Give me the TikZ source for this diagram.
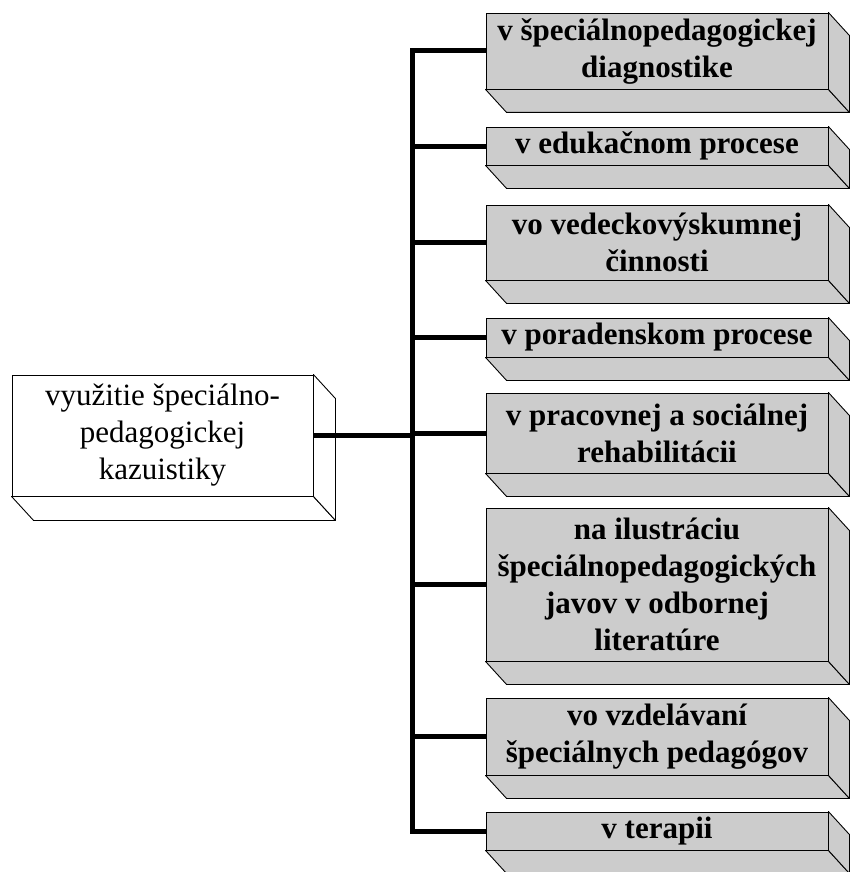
\documentclass[tikz,border=0pt]{standalone}
\usepackage{fontspec}
\setmainfont{Liberation Serif}
\definecolor{boxgray}{rgb}{0.80,0.80,0.80}
\tikzset{
  x=1pt, y=-1pt,
  front/.style={draw=black, line width=0.9pt, inner sep=0pt, align=center},
  sidebox/.style={front, fill=boxgray, minimum width=342pt,
    font=\fontsize{31}{37}\selectfont\bfseries},
  mainbox/.style={front, fill=white, minimum width=301pt, minimum height=121pt,
    font=\fontsize{31}{37}\selectfont},
  face/.style={draw=black, line width=0.9pt, line join=round},
  conn/.style={draw=black, line width=5pt}
}
% extruded bottom and right faces behind a front face
\newcommand{\depthfaces}[4]{% node, fill, dx, dy
  \path[face, fill=#2] (#1.south west) -- ++(#3,#4) -- ([shift={(#3,#4)}]#1.south east)
      -- (#1.south east) -- cycle;
  \path[face, fill=#2] (#1.north east) -- ++(#3,#4) -- ([shift={(#3,#4)}]#1.south east)
      -- (#1.south east) -- cycle;
}
\begin{document}
\begin{tikzpicture}
\useasboundingbox (0,0) rectangle (850,872);

% main node
\node[mainbox] (root) at (162.5,435.5) {využitie špeciálno-\\pedagogickej\\kazuistiky};

% branch nodes
\node[sidebox, minimum height=76pt]  (b1) at (657,51)    {v špeciálnopedagogickej\\diagnostike};
\node[sidebox, minimum height=38pt]  (b2) at (657,146)   {v edukačnom procese};
\node[sidebox, minimum height=75pt]  (b3) at (657,242.5) {vo vedeckovýskumnej\\činnosti};
\node[sidebox, minimum height=39pt]  (b4) at (657,337.5) {v poradenskom procese};
\node[sidebox, minimum height=80pt]  (b5) at (657,433)   {v pracovnej a sociálnej\\rehabilitácii};
\node[sidebox, minimum height=153pt] (b6) at (657,584.5) {na ilustráciu\\špeciálnopedagogických\\javov v odbornej\\literatúre};
\node[sidebox, minimum height=77pt]  (b7) at (657,736.5) {vo vzdelávaní\\špeciálnych pedagógov};
\node[sidebox, minimum height=38pt]  (b8) at (657,831)   {v terapii};

% depth faces
\depthfaces{root}{white}{22}{24}
\foreach \n in {b1,b2,b3,b4,b5,b6,b7,b8}{\depthfaces{\n}{boxgray}{21}{23}}

% redraw front faces over the depth faces
\node[mainbox] at (root) {využitie špeciálno-\\pedagogickej\\kazuistiky};
\node[sidebox, minimum height=76pt]  at (b1) {v špeciálnopedagogickej\\diagnostike};
\node[sidebox, minimum height=38pt]  at (b2) {v edukačnom procese};
\node[sidebox, minimum height=75pt]  at (b3) {vo vedeckovýskumnej\\činnosti};
\node[sidebox, minimum height=39pt]  at (b4) {v poradenskom procese};
\node[sidebox, minimum height=80pt]  at (b5) {v pracovnej a sociálnej\\rehabilitácii};
\node[sidebox, minimum height=153pt] at (b6) {na ilustráciu\\špeciálnopedagogických\\javov v odbornej\\literatúre};
\node[sidebox, minimum height=77pt]  at (b7) {vo vzdelávaní\\špeciálnych pedagógov};
\node[sidebox, minimum height=38pt]  at (b8) {v terapii};

% connectors
\coordinate (trunk) at (412,435);
\draw[conn] (root.east) -- (root.east -| trunk);
\draw[conn, line cap=rect] (b1.west -| trunk) -- (b8.west -| trunk);
\foreach \n in {b1,b2,b3,b4,b5,b6,b7,b8}{
  \draw[conn] (\n.west -| trunk) -- (\n.west);
}
\end{tikzpicture}
\end{document}
